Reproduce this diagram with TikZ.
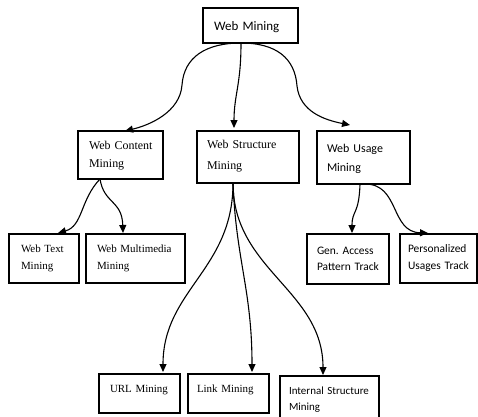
\documentclass[tikz,border=0pt]{standalone}
\usepackage{fontspec}
\newfontfamily\calfont{Carlito}
\newfontfamily\tmsfont{Liberation Serif}
\usetikzlibrary{arrows.meta,calc}
\begin{document}
\begin{tikzpicture}[x=1bp,y=-1bp,
  box/.style={draw, line width=1.1bp, rectangle, anchor=north west, inner ysep=0pt, outer sep=0pt, align=left},
  conn/.style={line width=1.1bp, -{Triangle[length=8bp,width=7bp]}}]
\useasboundingbox (0,0) rectangle (478,416);
\clip (0,0) rectangle (478,416);
% boxes
\node[box, inner xsep=11bp, text width=73bp, text height=22bp, text depth=13bp, font=\calfont\fontsize{13}{16}\selectfont] (wm) at (203,8) {\mbox{Web Mining}};
\node[box, inner xsep=11bp, text width=63bp, text height=18bp, text depth=30bp, font=\tmsfont\fontsize{12}{19}\selectfont] (wcm) at (78,131) {\mbox{Web Content}\\Mining};
\node[box, inner xsep=10bp, text width=82bp, text height=17bp, text depth=35bp, font=\tmsfont\fontsize{12}{22}\selectfont] (wsm) at (197,131) {\mbox{Web Structure}\\Mining};
\node[box, inner xsep=10bp, text width=73bp, text height=21bp, text depth=32bp, font=\calfont\fontsize{12}{20}\selectfont] (wum) at (317,131) {\mbox{Web Usage}\\Mining};
\node[box, inner xsep=12bp, text width=46bp, text height=18bp, text depth=31bp, font=\tmsfont\fontsize{11}{18}\selectfont] (wtm) at (9,234) {\mbox{Web Text}\\Mining};
\node[box, inner xsep=11bp, text width=77bp, text height=18bp, text depth=31bp, font=\tmsfont\fontsize{11}{18}\selectfont] (wmm) at (86,234) {\mbox{Web Multimedia}\\Mining};
\node[box, inner xsep=10bp, text width=62bp, text height=20bp, text depth=30bp, font=\calfont\fontsize{11.5}{17}\selectfont] (gap) at (307,234) {\mbox{Gen.\ Access}\\\mbox{Pattern Track}};
\node[box, inner xsep=8bp, text width=61bp, text height=18bp, text depth=31bp, font=\calfont\fontsize{11.5}{18}\selectfont] (put) at (400,234) {\mbox{Personalized}\\\mbox{Usages Track}};
\node[box, inner xsep=11bp, text width=59bp, text height=18bp, text depth=21bp, font=\tmsfont\fontsize{11}{18}\selectfont] (url) at (99,374) {\mbox{URL Mining}};
\node[box, inner xsep=9bp, text width=63bp, text height=18bp, text depth=21bp, font=\tmsfont\fontsize{11}{18}\selectfont] (lm) at (188,374) {\mbox{Link Mining}};
\node[box, inner xsep=9bp, text width=81bp, text height=18bp, text depth=31bp, font=\calfont\fontsize{11}{17}\selectfont] (ism) at (280,376) {\mbox{Internal Structure}\\Mining};
% via points
\coordinate (c1) at (182,85);
\coordinate (c2) at (297,86);
% connectors from Web Mining
\draw[conn] ($(wm.south)+(-9.5,0)$) .. controls +(-35,0) and +(2,-28) .. (c1)
  .. controls +(-2,27) and +(25,-6) .. ($(wcm.north)+(4.5,0)$);
\draw[conn] ($(wm.south)+(-9.5,0)$) .. controls +(0,42) and +(0,-33) .. ($(wsm.north)+(-14,-3)$);
\draw[conn] ($(wm.south)+(-9.5,0)$) .. controls +(35,0) and +(-2,-28) .. (c2)
  .. controls +(3,26) and +(-25,-5) .. ($(wum.north west)+(33,-6)$);
% Web Content children
\draw[conn] ($(wcm.south)+(-20.5,0)$) .. controls +(-20,21) and +(25,-7) .. ($(wtm.north)+(14,-1)$);
\draw[conn] ($(wcm.south)+(-20.5,0)$) .. controls +(4,25) and +(-1,-33) .. ($(wmm.north)+(-12.5,-1)$);
% Web Usage children
\draw[conn] ($(wum.south)+(-3.5,0)$) .. controls +(-1,31) and +(0,-23) .. ($(gap.north)+(4,-1)$);
\draw[conn] ($(wum.south)+(1.5,0)$) .. controls +(35,0) and +(-38,-1) .. ($(put.north west)+(28,-1)$);
% Web Structure children
\draw[conn] ($(wsm.south)+(-15,0)$) .. controls +(0,87) and +(0,-82) .. ($(url.north)+(23.5,-2)$);
\draw[conn] ($(wsm.south)+(-15,0)$) .. controls +(3,77) and +(0,-82) .. ($(lm.north)+(23.5,-2)$);
\draw[conn] ($(wsm.south)+(-15,0)$) .. controls +(0,87) and +(0,-85) .. ($(ism.north)+(-6.5,-1)$);
\end{tikzpicture}
\end{document}
